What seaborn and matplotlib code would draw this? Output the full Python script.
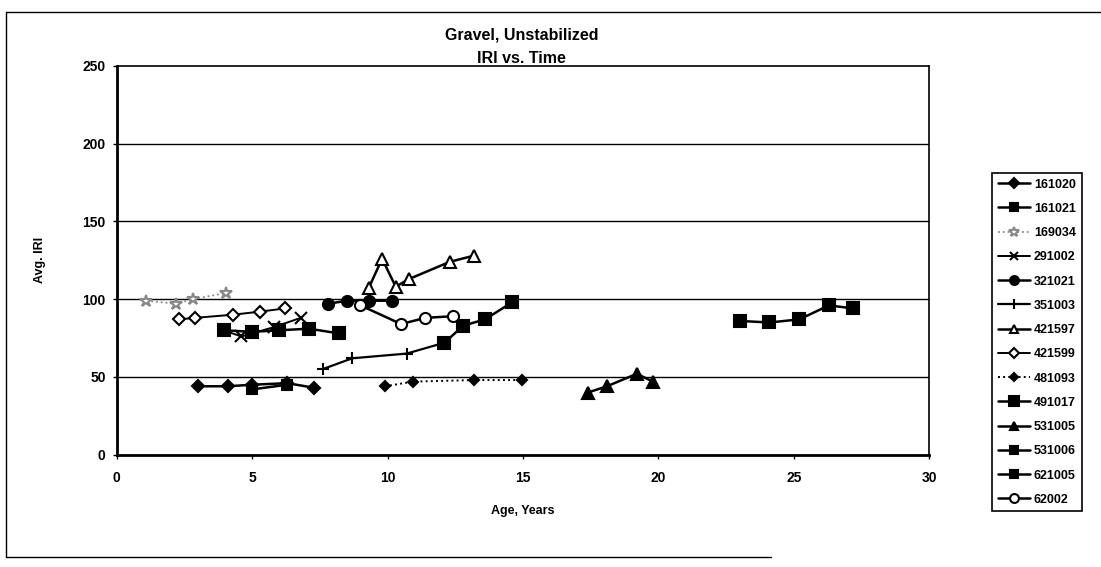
import matplotlib
matplotlib.use("Agg")
import matplotlib.pyplot as plt
import seaborn as sns
from matplotlib.lines import Line2D

# IRI readings per section
age_161020 = [3.0, 4.1, 5.0, 6.3, 7.3]
iri_161020 = [44, 44, 45, 46, 43]
age_161021 = [5.0, 6.3]
iri_161021 = [42, 45]
age_169034 = [1.1, 2.2, 2.8, 4.05]
iri_169034 = [99, 97, 100, 104]
age_291002 = [3.95, 4.6, 5.8, 6.8]
iri_291002 = [80, 76, 82, 88]
age_321021 = [7.8, 8.5, 9.3, 10.15]
iri_321021 = [97, 99, 99, 99]
age_351003 = [7.6, 8.7, 10.7, 12.1]
iri_351003 = [55, 62, 65, 72]
age_421597 = [9.3, 9.8, 10.3, 10.8, 12.3, 13.2]
iri_421597 = [107, 126, 108, 113, 124, 128]
age_421599 = [2.3, 2.9, 4.3, 5.3, 6.2]
iri_421599 = [87, 88, 90, 92, 94]
age_481093 = [9.9, 10.95, 13.2, 14.95]
iri_481093 = [44, 47, 48, 48]
age_491017 = [3.95, 5.0, 6.0, 7.1, 8.2]
iri_491017 = [80, 79, 80, 81, 78]
age_531005 = [17.4, 18.1, 19.2, 19.8]
iri_531005 = [40, 44, 52, 47]
age_531006 = [12.1, 12.8, 13.6, 14.6]
iri_531006 = [72, 83, 87, 98]
age_621005 = [23.0, 24.1, 25.2, 26.3, 27.2]
iri_621005 = [86, 85, 87, 96, 94]
age_62002 = [9.0, 10.5, 11.4, 12.4]
iri_62002 = [96, 84, 88, 89]

series = [
    ("161020", age_161020, iri_161020),
    ("161021", age_161021, iri_161021),
    ("169034", age_169034, iri_169034),
    ("291002", age_291002, iri_291002),
    ("321021", age_321021, iri_321021),
    ("351003", age_351003, iri_351003),
    ("421597", age_421597, iri_421597),
    ("421599", age_421599, iri_421599),
    ("481093", age_481093, iri_481093),
    ("491017", age_491017, iri_491017),
    ("531005", age_531005, iri_531005),
    ("531006", age_531006, iri_531006),
    ("621005", age_621005, iri_621005),
    ("62002", age_62002, iri_62002),
]

# marker, size, face colour, line colour, line style, line width
styles = {
    "161020": ("D", 6, "black", "black", "-", 1.8),
    "161021": ("s", 7, "black", "black", "-", 1.8),
    "169034": ("*", 9, "white", "#888888", ":", 1.3),
    "291002": ("x", 8, "black", "black", "-", 1.4),
    "321021": ("o", 8, "black", "black", "-", 1.8),
    "351003": ("+", 9, "black", "black", "-", 1.6),
    "421597": ("^", 8, "white", "black", "-", 1.8),
    "421599": ("D", 6, "white", "black", "-", 1.4),
    "481093": ("D", 5, "black", "black", ":", 1.4),
    "491017": ("s", 9, "black", "black", "-", 1.8),
    "531005": ("^", 8, "black", "black", "-", 1.8),
    "531006": ("s", 8, "black", "black", "-", 1.8),
    "621005": ("s", 8, "black", "black", "-", 1.8),
    "62002": ("o", 8, "white", "black", "-", 1.8),
}

sns.set_theme(style="white")
plt.rcParams["font.family"] = ["Liberation Sans", "DejaVu Sans"]
plt.rcParams["font.weight"] = "bold"
plt.rcParams["text.color"] = "black"
plt.rcParams["axes.labelcolor"] = "black"

fig = plt.figure(figsize=(11.01, 5.67), dpi=100)
ax = fig.add_axes([0.106, 0.198, 0.738, 0.686])

for name, xs, ys in series:
    marker, ms, face, col, ls, lw = styles[name]
    sns.lineplot(x=xs, y=ys, ax=ax, color=col, marker=marker, markersize=ms,
                 markerfacecolor=face, markeredgecolor=col, markeredgewidth=1.5,
                 linestyle=ls, linewidth=lw, label=name, sort=False,
                 estimator=None)

ax.set_xlim(0, 30)
ax.set_ylim(0, 250)
ax.set_xticks(range(0, 31, 5))
ax.set_yticks(range(0, 251, 50))
for yv in (50, 100, 150, 200):
    ax.axhline(yv, color="black", lw=1.0, zorder=0)
for side in ("left", "bottom"):
    ax.spines[side].set_linewidth(2.0)
    ax.spines[side].set_color("black")
for side in ("top", "right"):
    ax.spines[side].set_linewidth(1.2)
    ax.spines[side].set_color("black")
ax.tick_params(axis="both", direction="out", length=3, width=1, colors="black",
               labelsize=10, bottom=True, left=True)
ax.tick_params(axis="x", pad=9)
ax.tick_params(axis="y", pad=5)
for lab in ax.get_xticklabels() + ax.get_yticklabels():
    lab.set_fontweight("bold")

ax.set_xlabel("Age, Years", fontsize=9, fontweight="bold", labelpad=14, color="black")
ax.set_ylabel("Avg. IRI", fontsize=9, fontweight="bold", labelpad=26, color="black")

# two-line chart title sitting just above the plot area
fig.text(0.474, 0.938, "Gravel, Unstabilized", ha="center", va="center",
         fontsize=11.5, fontweight="bold", color="black")
fig.text(0.474, 0.896, "IRI vs. Time", ha="center", va="center",
         fontsize=11.5, fontweight="bold", color="black")

ax.get_legend().remove()
handles, labels = ax.get_legend_handles_labels()
leg = fig.legend(handles, labels, loc="upper left", bbox_to_anchor=(0.901, 0.695),
                 frameon=True, fancybox=False, edgecolor="black", framealpha=1,
                 prop={"size": 9, "weight": "bold"}, handlelength=2.6,
                 handletextpad=0.3, labelspacing=0.98, borderpad=0.45,
                 borderaxespad=0, markerscale=0.8, labelcolor="black")
leg.get_frame().set_linewidth(1.2)

# outer chart border of the scanned page
for xy in (([0.0055, 0.0055], [0.018, 0.979]), ([0.0055, 1.0], [0.979, 0.979]),
           ([0.0055, 0.70], [0.018, 0.018])):
    fig.add_artist(Line2D(xy[0], xy[1], color="black", lw=1.0,
                          transform=fig.transFigure))

fig.savefig("out.png", dpi=100)
